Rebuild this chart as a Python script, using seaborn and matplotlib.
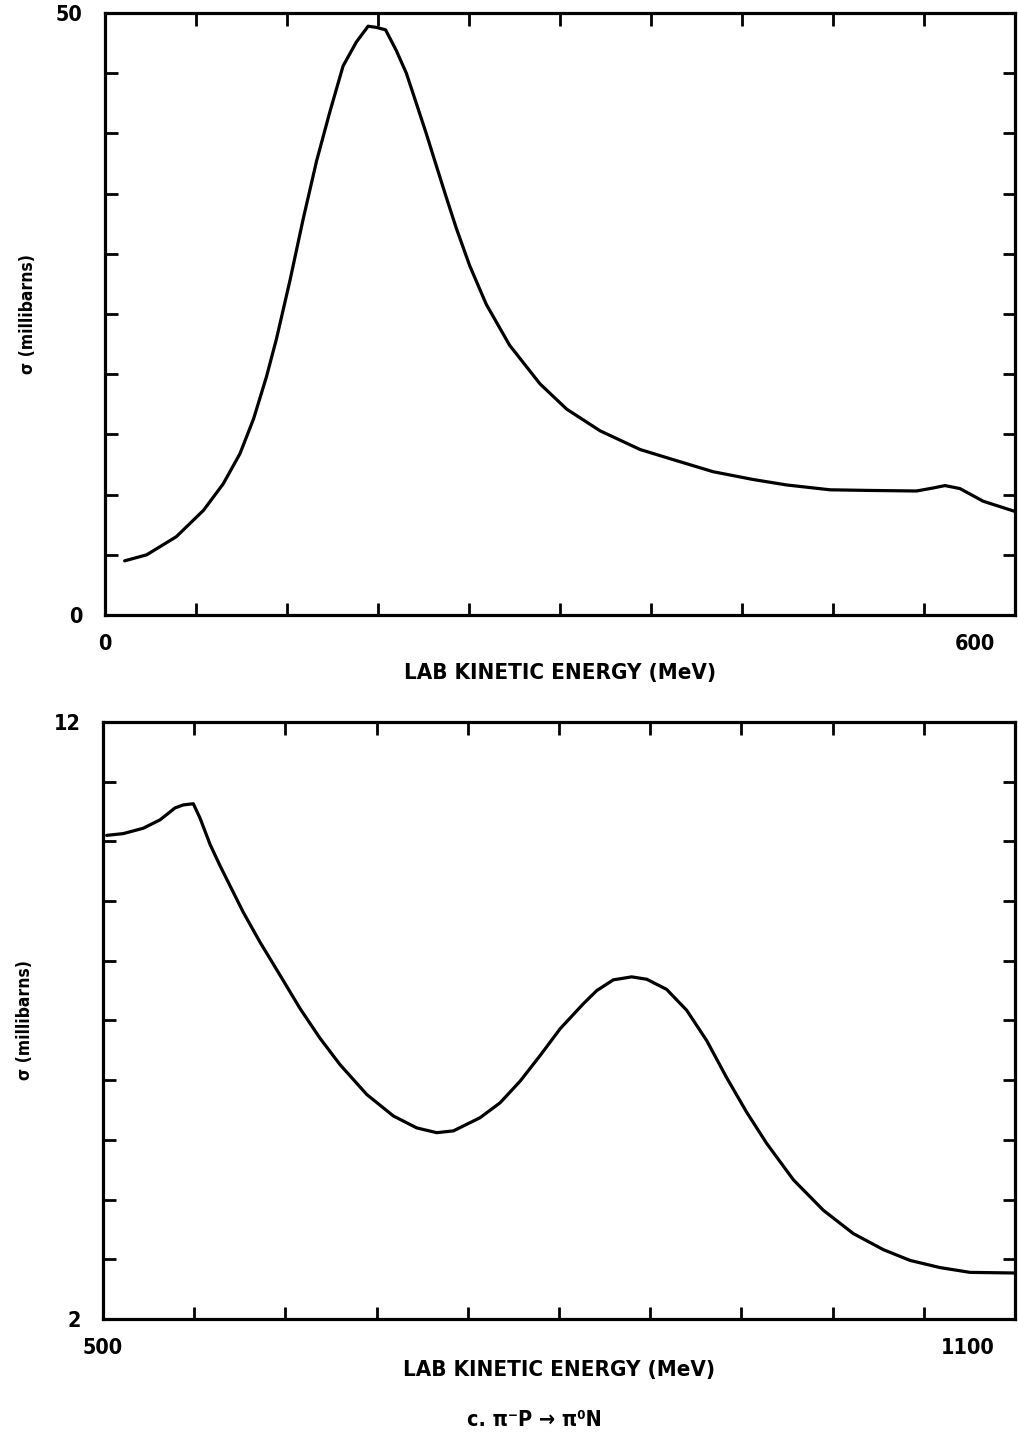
import numpy as np
import pandas as pd
import matplotlib
matplotlib.use('Agg')
import matplotlib.pyplot as plt
import matplotlib.transforms as mtransforms
import seaborn as sns

# pi+ p total cross section, 0-600 MeV
energy_low = [13, 27.5, 47, 65, 78, 89, 98, 106.5, 113, 122, 130.7, 139.5, 148.3,
              157, 165.8, 173.5, 179, 185, 192, 198.7, 205, 211.8, 218.5, 225,
              231.7, 240.5, 251.4, 266.8, 286.8, 304.4, 326.4, 352.7, 374.7, 401,
              427.5, 449.5, 478, 502, 535, 546, 553.8, 563.7, 579, 600]
sigma_low = [4.5, 5.0, 6.5, 8.7, 10.9, 13.4, 16.3, 19.8, 22.9, 27.8, 32.9, 37.7, 41.8,
             45.6, 47.6, 48.9, 48.8, 48.6, 46.9, 45.0, 42.6, 40.0, 37.3, 34.7,
             32.1, 29.0, 25.8, 22.4, 19.2, 17.1, 15.3, 13.75, 12.9, 11.9,
             11.25, 10.8, 10.4, 10.35, 10.3, 10.55, 10.75, 10.5, 9.45, 8.6]

# pi- p -> pi0 n, 500-1100 MeV (bottom curve)
energy_high = [502.4, 513.4, 526.5, 537.5, 547.4, 552.8, 559.4, 563.8, 570.4, 577,
               592.3, 603.3, 616.4, 629.6, 642.8, 655.9, 673.5, 691, 706.4, 719.5,
               730.5, 748, 761.2, 774.3, 787.5, 800.7, 816, 824.8, 835.7, 847.8,
               857.7, 870.8, 884, 897.2, 910.3, 923.5, 936.6, 954.2, 973.9, 993.6,
               1013.4, 1031, 1050.7, 1070.4, 1099]
sigma_high = [10.10, 10.13, 10.22, 10.36, 10.56, 10.61, 10.63, 10.39, 9.95, 9.59,
              8.81, 8.31, 7.76, 7.20, 6.70, 6.26, 5.76, 5.40, 5.20, 5.12,
              5.15, 5.37, 5.62, 5.98, 6.41, 6.86, 7.28, 7.50, 7.68, 7.73,
              7.69, 7.52, 7.17, 6.66, 6.04, 5.46, 4.94, 4.33, 3.82, 3.43,
              3.16, 2.98, 2.86, 2.78, 2.77]

xlabel = 'LAB KINETIC ENERGY (MeV)'
ylabel = 'σ (millibarns)'
caption = 'c. π⁻P → π⁰N'

sns.set_style('ticks')
plt.rcParams['font.family'] = ['DejaVu Sans']
plt.rcParams['font.weight'] = 'bold'
plt.rcParams['font.stretch'] = 'condensed'
plt.rcParams['text.color'] = 'black'
plt.rcParams['axes.labelcolor'] = 'black'

fig = plt.figure(figsize=(10.18, 14.41), dpi=100)
ax1 = fig.add_axes([0.1031, 0.5732, 0.894, 0.4178])
ax2 = fig.add_axes([0.1012, 0.0847, 0.8959, 0.4143])

df_low = pd.DataFrame({'E': energy_low, 'sigma': sigma_low})
df_high = pd.DataFrame({'E': energy_high, 'sigma': sigma_high})

sns.lineplot(data=df_low, x='E', y='sigma', ax=ax1, color='black', lw=2.3, estimator=None)
sns.lineplot(data=df_high, x='E', y='sigma', ax=ax2, color='black', lw=2.3, estimator=None)


def style(ax, x0, x1, y0, y1, ystep, label_dx, xpad):
    ax.set_xlim(x0, x1)
    ax.set_ylim(y0, y1)
    xt = np.arange(x0, x1 + 1, 60)
    yt = np.arange(y0, y1 + 0.001, ystep)
    ax.set_xticks(xt)
    ax.set_xticklabels([str(x0)] + [''] * (len(xt) - 2) + [str(x1)])
    ax.set_yticks(yt)
    ax.set_yticklabels([str(y0)] + [''] * (len(yt) - 2) + [str(y1)])
    ax.tick_params(direction='in', length=9, width=2, top=True, right=True,
                   labelsize=15.5, colors='black')
    ax.tick_params(axis='x', pad=14)
    ax.tick_params(axis='y', pad=16)
    for s in ax.spines.values():
        s.set_linewidth(2.3)
        s.set_color('black')
    ax.set_xlabel(xlabel, fontsize=16, fontweight='heavy', labelpad=xpad)
    ax.set_ylabel(ylabel, fontsize=12.5, fontweight='bold', labelpad=14)
    # last x label sits left of the corner in the original
    lab = ax.get_xticklabels()[-1]
    lab.set_transform(lab.get_transform() +
                      mtransforms.ScaledTranslation(label_dx / 100, 0, fig.dpi_scale_trans))


style(ax1, 0, 600, 0, 50, 5, -40, 6)
style(ax2, 500, 1100, 2, 12, 1, -47, 1)

fig.text(0.525, 0.0146, caption, ha='center', va='center', fontsize=15.5, fontweight='heavy')

fig.savefig('out.png', dpi=100)
